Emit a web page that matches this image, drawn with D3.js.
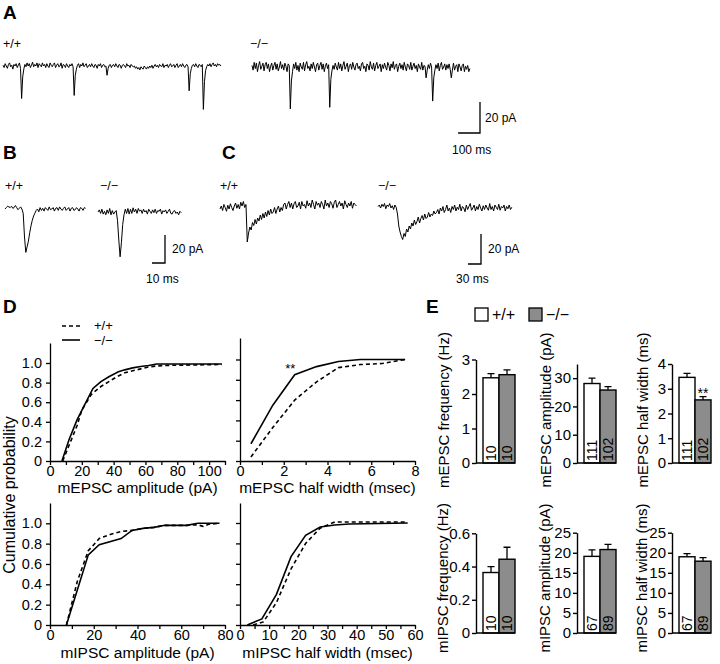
<!DOCTYPE html>
<html>
<head>
<meta charset="utf-8">
<script src="https://cdn.jsdelivr.net/npm/d3@7"></script>
<style>
  body { margin: 0; background: #fff; }
  svg { display: block; font-family: "Liberation Sans", Arial, Helvetica, sans-serif; }
</style>
</head>
<body>
<svg id="fig" width="720" height="664"></svg>
<script>
// Genotypes.
const genotypes = ["+/+", "−/−"];

// A: 1 s of mEPSC recording, pA from baseline, one sample per 5 ms.
const traceAWt = [
  0.5, -1, 1.5, 0, -1.5, 1, 2, -0.5, 0.5, -2, 1, 0, 1.5, -1, 0.5, 2, -1.5, -21, -7, -2,
  1, -0.5, 2, 0, 1.5, -1, 0.5, 2.5, -0.5, 1, 0, 2, -1, 1.5, 0.5, -0.5, 2, 0, 1, -1,
  1.5, 0, -1, 2, 0.5, -0.5, 1, 2, -1, 0.5, 1.5, -0.5, 0, 2, -1.5, 1, 0.5, -1, 1.5, 0,
  -1, 1, 0, 1.5, -0.5, -19, -6, -2, 0.5, 1.5, -1, 1, 0, 2, -0.5, 0.5, 1.5, -1, 0, 1,
  -0.5, 1.5, 0, -1, 1, 0.5, -1.5, 1, 0, 1.5, -1, 0.5, 1, -0.5, 0, -6, -1.5, 0.5, 1, -1,
  0.5, 1, -0.5, 1.5, 0, -1, 1, 0.5, -1.5, 0.5, 1, 0, -1, 1.5, 0, 0.5, -1, 1, 0, -0.5,
  0, -1.5, -0.5, -2, -1, -2.5, -0.5, -1.5, -2, 0, -1, -2, -0.5, -1.5, 0, -1, 0.5, -1.5, 0, 1,
  -0.5, 0.5, -1, 1, 0, -0.5, 1.5, -1, 0.5, 0, 1, -1, 0.5, 1.5, -0.5, 0, 1, -1, 0.5, 1.5,
  -1, 0, 1, -0.5, 1.5, 0, -1, 0.5, 1, -0.5, -16, -5, -1.5, 0.5, 1, -0.5, 1.5, 0, -1, 1,
  0.5, -0.5, 1, -28, -10, -3, -0.5, 1, 0, 1.5, -0.5, 1, 2, 0, 1, -0.5, 1.5, 0.5, 1, 0];
const traceAKo = [
  1, -2, 3, -1, 2.5, -3, 1, 3.5, -1.5, 0.5, 2.5, -2.5, 1.5, 3, -1, 2, -3, 0.5, 2.5, -2,
  1, 3, -1.5, 2, -2.5, 0, 3.5, -1, 1.5, -2, 2.5, 0.5, -3, 2, 1, -27, -9, -3, 2, -1,
  3, -2, 1, -3, 2.5, 0, -1.5, 3, -2.5, 1.5, 3.5, -1, 0.5, -2.5, 2, -1, 3, 0, -3, 1.5,
  2.5, -2, 1, 3, -1.5, 2, -3, 0.5, 2.5, -1, 1.5, -26, -8, -2.5, 1, -1.5, 2.5, 0, -2, 3,
  -1, 2, -2.5, 1, 3.5, -1.5, 0.5, 2.5, -3, 1, 2, -1.5, 3, 0, -2, 1.5, 2.5, -1, 0.5, -2.5,
  2, 3, -1, 0.5, -3, 2, 1, -2, 3.5, 0, -1.5, 2.5, -2.5, 1, 3, -1, 0.5, 2, -3, 1.5,
  -1, 2.5, 0, -2, 3, 1, -2.5, 2, -0.5, 3.5, -1.5, 1, 2, -3, 0.5, 2.5, -1, 1.5, -2, 3,
  0, -2.5, 2, 1, -1.5, 3, -2, 0.5, 2.5, -1, 1, -3, 2, 0, -1.5, 3, -2, 1, 0.5, -7,
  -2, 1.5, -1, 2.5, 0, -22, -7, -2, 1.5, -1, 2.5, -2.5, 1, 3, -1.5, 0, 2, -2, 1.5, -1,
  2, -1.5, -7, -2, 2.5, -2, 0.5, 1.5, -3, 2, 0, -2.5, 1, 2, -3, 0.5, -1.5, 1, -3, -1];

// B: single mEPSCs, one sample per 1 ms.
const traceBWt = [0, 1, 2, 1.5, 1, 2, 0.5, 1, 2.5, 1, -0.5, 0.5, 1.5, 0,
  -3, -20, -31, -27, -23, -17, -12, -8, -5, -3,
  -1, 0, -2, 1, -1, 0.5, -1.5, 1, 0, -1, 1.5, -0.5, 0, 1, -1.5, 0.5, 1, -1, 1.5, 0,
  -1, 0.5, 1.5, -1, 0, 1, -1.5, 0.5, 1, -1, -0.5, 1, 0, -1.5, 1, 0.5, -1, 1, 0.5];
const traceBKo = [0, 1.5, -1, 2, -1.5, 0.5, -2, 1.5, -1, 2.5, -2, 1, -1.5, 0, 1,
  -6, -20, -32, -22, -9, -2, 2,
  -1, 2.5, -1.5, 2, -1, 3, 0, 2, -1, 2.5, 0.5, 1.5, -1, 2, 0, 1, -1.5, 2, 0.5, -1,
  1.5, -0.5, 2, -1, 1, 0.5, 2, -1.5, 1, 0, 1.5, -1, 0.5, 2, -1, -1.5, 0.5, 1, -1, 0,
  -2, 0.5, -0.5];

// C: single mIPSCs, one sample per 3 ms.
const traceCWt = [-2, 0, -3, 1, -1, -3.5, 0.5, -2, 1.5, -1, -3, 0, 2, -1.5, 1, -2, 2.5, 0, 3, -1,
  1, -24, -18, -14, -16, -11, -13, -9, -12, -8,
  -10, -6, -9, -5, -8, -4, -7, -3, -6, -2, -5, -4, -1, -5, -2, 0, -4, -1, -3, 1,
  2, -2, 1, 3, -1, 2, -2, 1.5, 3, -1, 0, 2.5, -2, 3, 0, 1, -1.5, 3.5, 0, 2,
  -1, 4, 1, -2, 3, 0.5, 2, -1, 3, 1, -2, 4, 0, 2, -1, 3, 1.5, -1.5, 2.5, 4,
  -1, 1, 3, 0, 2, -2, 3.5, 1, -1, 2, 0, 3, -1.5, 2, 1, 0];
const traceCKo = [1, 2, 0, 2.5, 1, 3, -0.5, 2, 1, 3, 0, 1.5, -1, 2, 0.5,
  -4, -12, -16, -19, -21, -17, -19, -14, -16, -12,
  -14, -10, -12, -8, -11, -9, -6, -10, -7, -5, -8, -4, -7, -6, -3, -6, -4, -5, -2, -4,
  -3, -1, -4, 0, -2, 1, -3, -1, 2, -2, 0, -3, 1, -1, 2, -2, 0.5, -1, 2.5, -2,
  1, 0, -2.5, 2, -1, 1, 3, -1.5, 0, 2, -2, 1, -1, 2.5, 0, -2, 1.5, -1, 2, 0,
  -1.5, 3, -1, 1, -2, 2, 0.5, -1, 2.5, -1.5, 1, 0, 2, -2, 1, -0.5, 2, -1, 0.5];

// D: cumulative distributions, [value, probability].
const mepscAmpWt = [[8, 0], [13, 0.2], [17, 0.36], [20, 0.52], [26, 0.68], [32, 0.76], [38, 0.82],
  [42, 0.86], [47, 0.9], [52, 0.92], [57, 0.94], [62, 0.96], [67, 0.97], [72, 0.975], [108, 0.985]];
const mepscAmpKo = [[7.5, 0], [12, 0.22], [17, 0.42], [22, 0.58], [27, 0.74], [32, 0.81], [37, 0.86],
  [43, 0.91], [47, 0.93], [52, 0.95], [57, 0.965], [62, 0.975], [67, 0.99], [108, 0.99]];
const mepscWidthWt = [[0.5, 0.04], [1.5, 0.33], [2.5, 0.6], [3.5, 0.78], [4.5, 0.92], [5.5, 0.95], [6.5, 0.96], [7.55, 1.0]];
const mepscWidthKo = [[0.5, 0.17], [1.5, 0.55], [2.5, 0.85], [3.5, 0.93], [4.5, 0.98], [5.5, 1.0], [6.5, 1.0], [7.55, 1.0]];
const mipscAmpWt = [[7.5, 0], [12.5, 0.43], [17.5, 0.73], [22.5, 0.85], [27.5, 0.89], [32.5, 0.92], [37.5, 0.93],
  [42.5, 0.95], [47.5, 0.96], [52.5, 0.98], [57.5, 0.98], [62.5, 0.98], [67.5, 0.985], [70, 0.97], [72.5, 0.99], [77.5, 1.0]];
const mipscAmpKo = [[7.5, 0], [17.5, 0.69], [22.5, 0.79], [32.5, 0.85], [37.5, 0.93], [42.5, 0.95], [47.5, 0.96],
  [52.5, 0.98], [57.5, 0.98], [62.5, 0.98], [67.5, 1.0], [77.5, 1.0]];
const mipscWidthWt = [[4.5, 0], [8, 0.03], [12.5, 0.22], [17.5, 0.55], [22.5, 0.8], [27.5, 0.95], [32.5, 1.01], [57.5, 1.01]];
const mipscWidthKo = [[2.5, 0], [7.5, 0.06], [12.5, 0.3], [17.5, 0.67], [22.5, 0.88], [27.5, 0.96], [32.5, 0.98], [37.5, 0.99], [57.5, 1.0]];

// E: means, SEM and n per genotype.
const mepscFreq = [2.47, 2.56], mepscFreqErr = [0.12, 0.14], mepscFreqN = [10, 10];
const mepscAmp = [28.1, 25.8], mepscAmpErr = [1.9, 1.2], mepscAmpN = [111, 102];
const mepscWidth = [3.46, 2.55], mepscWidthErr = [0.16, 0.13], mepscWidthN = [111, 102];
const mipscFreq = [0.364, 0.444], mipscFreqErr = [0.036, 0.072], mipscFreqN = [10, 10];
const mipscAmp = [19.1, 20.8], mipscAmpErr = [1.6, 1.3], mipscAmpN = [67, 89];
const mipscWidth = [19.0, 17.9], mipscWidthErr = [0.8, 0.9], mipscWidthN = [67, 89];

const svg = d3.select("#fig");

function text(x, y, s, size, anchor, bold) {
  return svg.append("text")
    .attr("x", x).attr("y", y)
    .attr("font-size", size)
    .attr("text-anchor", anchor || "start")
    .attr("font-weight", bold ? "bold" : null)
    .text(s);
}

function vtext(x, y, s, size, anchor) {
  return svg.append("text")
    .attr("transform", `translate(${x},${y}) rotate(-90)`)
    .attr("font-size", size)
    .attr("text-anchor", anchor || "middle")
    .text(s);
}

// Draw a current trace; returns its scales so scale bars can reuse them.
function drawTrace(values, dt, x0, pxPerMs, y0, pxPerPa) {
  const tEnd = dt * (values.length - 1);
  const x = d3.scaleLinear().domain([0, tEnd]).range([x0, x0 + tEnd * pxPerMs]);
  const y = d3.scaleLinear().domain([0, 20]).range([y0, y0 - 20 * pxPerPa]);
  svg.append("path")
    .datum(values)
    .attr("fill", "none")
    .attr("stroke", "#000")
    .attr("stroke-width", 1)
    .attr("stroke-linejoin", "round")
    .attr("d", d3.line().x((d, i) => x(i * dt)).y(d => y(d)));
  return { x, y };
}

function scaleBar(sc, ms, pa, cx, cy) {
  const w = sc.x(ms) - sc.x(0);
  const h = sc.y(0) - sc.y(pa);
  svg.append("path")
    .attr("fill", "none")
    .attr("stroke", "#000")
    .attr("stroke-width", 1.3)
    .attr("d", `M${cx - w},${cy}H${cx}V${cy - h}`);
}

// Panel letters and genotype labels.
text(3, 19, "A", 19, "start", true);
text(3, 159, "B", 19, "start", true);
text(222, 159, "C", 19, "start", true);
text(3, 313, "D", 19, "start", true);
text(426, 313, "E", 19, "start", true);

text(3, 48, genotypes[0], 12.5);
text(250, 48, genotypes[1], 12.5);
text(5, 190, genotypes[0], 12.5);
text(100, 190, genotypes[1], 12.5);
text(220, 190, genotypes[0], 12.5);
text(378, 190, genotypes[1], 12.5);

// A
const scA = drawTrace(traceAWt, 5, 3, 0.219, 66, 1.55);
drawTrace(traceAKo, 5, 252, 0.219, 67, 1.55);
scaleBar(scA, 100, 20, 480, 133);
text(485, 122, "20 pA", 12);
text(452, 154, "100 ms", 12);

// B
const scB = drawTrace(traceBWt, 1, 5, 1.3, 209, 1.4);
drawTrace(traceBKo, 1, 98, 1.3, 212, 1.4);
scaleBar(scB, 10, 20, 165, 263);
text(172, 253, "20 pA", 12);
text(146, 283, "10 ms", 12);

// C
const scC = drawTrace(traceCWt, 3, 220, 0.433, 206, 1.5);
drawTrace(traceCKo, 3, 378, 0.433, 208, 1.5);
scaleBar(scC, 30, 20, 481, 264);
text(488, 253, "20 pA", 12);
text(456, 283, "30 ms", 12);

// D: cumulative probability plots
function cumPlot(p) {
  const x = d3.scaleLinear().domain(p.xDomain).range([p.left, p.right]);
  const yMax = (p.bottom - p.top) / (p.bottom - p.one);
  const y = d3.scaleLinear().domain([0, yMax]).range([p.bottom, p.top]);

  const xAxis = d3.axisBottom(x)
    .tickValues(d3.range(p.xDomain[0], p.xDomain[1] + 1e-9, p.minor))
    .tickFormat(d => d % p.major === 0 ? d : "")
    .tickSize(4).tickSizeOuter(0).tickPadding(1);
  const gx = svg.append("g").attr("transform", `translate(0,${p.bottom})`).call(xAxis);

  const yAxis = d3.axisLeft(y)
    .tickValues([0, 0.2, 0.4, 0.6, 0.8, 1.0])
    .tickFormat(d => p.yLabels ? (d === 0 ? "0" : d3.format(".1f")(d)) : "")
    .tickSize(4).tickSizeOuter(0).tickPadding(4);
  const gy = svg.append("g").attr("transform", `translate(${p.left},0)`).call(yAxis);

  [gx, gy].forEach(g => {
    g.attr("font-family", null).attr("font-size", 14.5);
    g.selectAll("path, line").attr("stroke", "#000").attr("stroke-width", 1.3);
    g.selectAll("text").attr("fill", "#000");
  });

  const line = d3.line().x(d => x(d[0])).y(d => y(d[1]));
  svg.append("path").datum(p.wt).attr("fill", "none").attr("stroke", "#000")
    .attr("stroke-width", 1.6).attr("stroke-dasharray", "4,3").attr("d", line);
  svg.append("path").datum(p.ko).attr("fill", "none").attr("stroke", "#000")
    .attr("stroke-width", 1.6).attr("d", line);

  text((p.left + p.right) / 2, p.titleY, p.title, 15.5, "middle");
  return { x, y };
}

cumPlot({ left: 50, right: 225, bottom: 461, one: 363, top: 343, xDomain: [0, 110], minor: 10, major: 20,
  yLabels: true, wt: mepscAmpWt, ko: mepscAmpKo, title: "mEPSC amplitude (pA)", titleY: 493 });
const dWidth = cumPlot({ left: 240, right: 415, bottom: 461, one: 359.5, top: 338, xDomain: [0, 8], minor: 1, major: 2,
  yLabels: false, wt: mepscWidthWt, ko: mepscWidthKo, title: "mEPSC half width (msec)", titleY: 493 });
cumPlot({ left: 50, right: 225, bottom: 625, one: 523.3, top: 503, xDomain: [0, 80], minor: 10, major: 20,
  yLabels: true, wt: mipscAmpWt, ko: mipscAmpKo, title: "mIPSC amplitude (pA)", titleY: 658 });
cumPlot({ left: 240, right: 415, bottom: 625, one: 523, top: 503, xDomain: [0, 60], minor: 5, major: 10,
  yLabels: false, wt: mipscWidthWt, ko: mipscWidthKo, title: "mIPSC half width (msec)", titleY: 658 });

text(dWidth.x(2.3), 373, "**", 13, "middle");
vtext(15, 495, "Cumulative probability", 16);

// D legend
svg.append("line").attr("x1", 62).attr("x2", 80).attr("y1", 326).attr("y2", 326)
  .attr("stroke", "#000").attr("stroke-width", 1.6).attr("stroke-dasharray", "4,3");
svg.append("line").attr("x1", 62).attr("x2", 80).attr("y1", 340).attr("y2", 340)
  .attr("stroke", "#000").attr("stroke-width", 1.6);
text(94, 330, genotypes[0], 13);
text(94, 345, genotypes[1], 13);

// E: bar plots
const barFill = ["#fff", "#8c8c8c"];

function barPlot(p) {
  const x = d3.scaleBand().domain(genotypes).range([p.axisX + 7, p.axisX + 39]);
  const y = d3.scaleLinear().domain(p.yDomain).range([p.bottom, p.top]);
  const rows = genotypes.map((g, i) => ({ g, v: p.values[i], e: p.errs[i], n: p.ns[i], i }));

  // error bars first so the bar outline sits on top
  rows.forEach(d => {
    const cx = x(d.g) + x.bandwidth() / 2;
    svg.append("path").attr("fill", "none").attr("stroke", "#000").attr("stroke-width", 1.3)
      .attr("d", `M${cx},${y(d.v)}V${y(d.v + d.e)}M${cx - 3.5},${y(d.v + d.e)}H${cx + 3.5}`);
  });
  svg.selectAll(null).data(rows).enter().append("rect")
    .attr("x", d => x(d.g))
    .attr("y", d => y(d.v))
    .attr("width", x.bandwidth())
    .attr("height", d => y(0) - y(d.v))
    .attr("fill", d => barFill[d.i])
    .attr("stroke", "#000")
    .attr("stroke-width", 1.4);

  rows.forEach(d => {
    vtext(x(d.g) + x.bandwidth() / 2 + 5, p.bottom - 2, d.n, 14, "start");
  });

  svg.append("line").attr("x1", p.axisX).attr("x2", p.axisX + 39)
    .attr("y1", p.bottom).attr("y2", p.bottom).attr("stroke", "#000").attr("stroke-width", 1.4);

  const gy = svg.append("g").attr("transform", `translate(${p.axisX},0)`)
    .call(d3.axisLeft(y).tickValues(p.ticks).tickFormat(p.fmt || (d => d))
      .tickSize(4).tickSizeOuter(0).tickPadding(2));
  gy.attr("font-family", null).attr("font-size", 15);
  gy.selectAll("path, line").attr("stroke", "#000").attr("stroke-width", 1.4);
  gy.selectAll("text").attr("fill", "#000");

  vtext(p.labelX, p.labelY, p.label, 15);
  return { x, y };
}

barPlot({ axisX: 476, bottom: 463, top: 359.5, yDomain: [0, 3], ticks: [0, 1, 2, 3],
  values: mepscFreq, errs: mepscFreqErr, ns: mepscFreqN,
  label: "mEPSC frequency (Hz)", labelX: 449, labelY: 410 });
barPlot({ axisX: 577, bottom: 463, top: 364, yDomain: [0, 35], ticks: [0, 10, 20, 30],
  values: mepscAmp, errs: mepscAmpErr, ns: mepscAmpN,
  label: "mEPSC amplitude (pA)", labelX: 551, labelY: 410 });
const eWidth = barPlot({ axisX: 672, bottom: 463, top: 364, yDomain: [0, 4], ticks: [0, 1, 2, 3, 4],
  values: mepscWidth, errs: mepscWidthErr, ns: mepscWidthN,
  label: "mEPSC half width (ms)", labelX: 648, labelY: 410 });
text(eWidth.x(genotypes[1]) + eWidth.x.bandwidth() / 2, 398, "**", 14, "middle");

barPlot({ axisX: 476, bottom: 633, top: 533.3, yDomain: [0, 0.6], ticks: [0, 0.2, 0.4, 0.6],
  fmt: d => d === 0 ? "0" : d3.format(".1f")(d),
  values: mipscFreq, errs: mipscFreqErr, ns: mipscFreqN,
  label: "mIPSC frequency (Hz)", labelX: 448, labelY: 578 });
barPlot({ axisX: 577, bottom: 633, top: 532.7, yDomain: [0, 25], ticks: [0, 5, 10, 15, 20, 25],
  values: mipscAmp, errs: mipscAmpErr, ns: mipscAmpN,
  label: "mIPSC amplitude (pA)", labelX: 550, labelY: 578 });
barPlot({ axisX: 672, bottom: 633, top: 532.7, yDomain: [0, 25], ticks: [0, 5, 10, 15, 20, 25],
  values: mipscWidth, errs: mipscWidthErr, ns: mipscWidthN,
  label: "mIPSC half width (ms)", labelX: 647, labelY: 578 });

// E legend
svg.append("rect").attr("x", 475).attr("y", 308).attr("width", 13).attr("height", 13)
  .attr("fill", barFill[0]).attr("stroke", "#000").attr("stroke-width", 1.3);
svg.append("rect").attr("x", 529).attr("y", 308).attr("width", 13).attr("height", 13)
  .attr("fill", barFill[1]).attr("stroke", "#000").attr("stroke-width", 1.3);
text(492, 320, genotypes[0], 16);
text(546, 320, genotypes[1], 16);
</script>
</body>
</html>
